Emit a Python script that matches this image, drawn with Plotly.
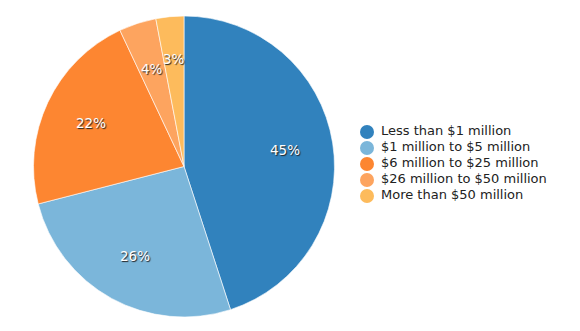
import math
import plotly.graph_objects as go

categories = ["Less than $1 million", "$1 million to $5 million", "$6 million to $25 million",
              "$26 million to $50 million", "More than $50 million"]
values = [45, 26, 22, 4, 3]
colors = ["#3182bd", "#7bb6da", "#fd8631", "#fda45f", "#fdbb5c"]

W, H = 580, 331
px0, px1, py0, py1 = 33, 335, 14, 315  # pie domain in pixels (x from left, y from bottom)

fig = go.Figure()
fig.add_trace(go.Pie(
    labels=categories, values=values, sort=False, direction="clockwise", rotation=0,
    marker=dict(colors=colors, line=dict(color="rgba(255,255,255,0.6)", width=1)),
    textinfo="none", showlegend=False, hoverinfo="label+percent",
    domain=dict(x=[px0 / W, px1 / W], y=[py0 / H, py1 / H]),
))

# percentage labels placed at ~0.68 of the radius along each slice's mid-angle
total = sum(values)
cum = 0
annotations = []
for v in values:
    mid = (cum + v / 2) / total * 2 * math.pi
    r = 0.68 if v / total > 0.035 else 0.72
    annotations.append(dict(
        x=r * math.sin(mid), y=r * math.cos(mid), xref="x2", yref="y2",
        text=f"{round(v / total * 100)}%", showarrow=False,
        font=dict(family="DejaVu Sans", size=13.5, color="white", shadow="1px 1px 1px #222"),
    ))
    cum += v

# legend drawn as a marker column + text column
idx = list(range(len(categories)))
fig.add_trace(go.Scatter(
    x=[0] * len(categories), y=idx, mode="markers", showlegend=False, hoverinfo="skip",
    marker=dict(symbol="circle", size=14, color=colors),
))
fig.add_trace(go.Scatter(
    x=[1.4] * len(categories), y=idx, text=categories, mode="text",
    textposition="middle right", showlegend=False, hoverinfo="skip",
    textfont=dict(family="DejaVu Sans", size=13, color="#222"),
))

fig.update_layout(
    width=W, height=H, margin=dict(l=0, r=0, t=0, b=0),
    paper_bgcolor="white", plot_bgcolor="rgba(0,0,0,0)",
    xaxis=dict(visible=False, domain=[357 / W, 1], range=[-1, 21.3], fixedrange=True),
    yaxis=dict(visible=False, domain=[127 / H, 207 / H], range=[4.5, -0.5], fixedrange=True),
    xaxis2=dict(visible=False, domain=[px0 / W, px1 / W], range=[-1, 1], anchor="y2"),
    yaxis2=dict(visible=False, domain=[py0 / H, py1 / H], range=[-1, 1], anchor="x2"),
    annotations=annotations,
    font=dict(family="DejaVu Sans"),
    showlegend=False,
)
fig.write_html("out.html")
